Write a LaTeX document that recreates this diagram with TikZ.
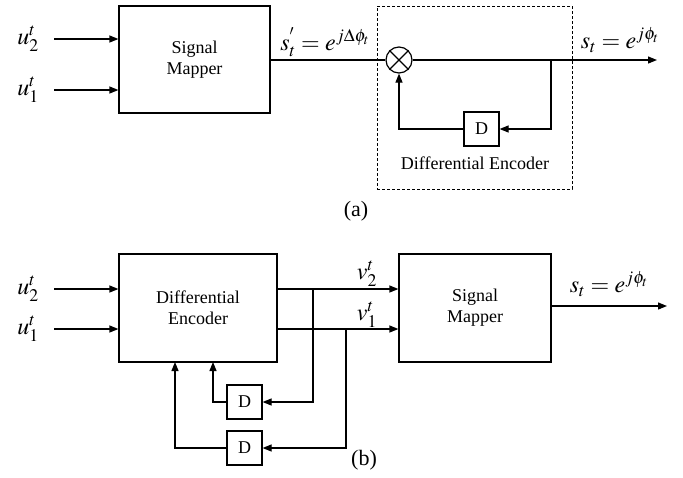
\documentclass[tikz,border=0pt]{standalone}
\usepackage{amsmath}
\usepackage{mathptmx}
\usepackage{fontspec}
\setmainfont{Liberation Serif}
\usepackage{tikz}
\usetikzlibrary{arrows.meta,positioning,calc}

\begin{document}
\begin{tikzpicture}[x=1pt,y=-1pt,line width=1.2pt,
  >={Triangle[length=9pt,width=7pt]},
  blk/.style={rectangle,draw,inner sep=0pt,align=center,
              font=\fontsize{18}{21}\selectfont},
  dly/.style={rectangle,draw,inner sep=0pt,minimum width=35pt,minimum height=34pt,
              font=\fontsize{18}{21}\selectfont},
  sig/.style={inner sep=0pt,font=\fontsize{24}{26}\selectfont},
  subcap/.style={inner sep=0pt,font=\fontsize{22}{24}\selectfont}]

  \useasboundingbox (0,0) rectangle (683,477);

  % (a) mapper followed by differential encoder
  \node[blk,minimum width=151pt,minimum height=107pt] (mapa) at (194.5,59.5) {Signal\\Mapper};
  \coordinate (ua2) at (54,39);
  \coordinate (ua1) at (54,90);
  \draw[->] (ua2) -- (ua2 -| mapa.west);
  \draw[->] (ua1) -- (ua1 -| mapa.west);
  \node[sig] (lua2) at (28,39) {$u_2^t$};
  \node[sig] (lua1) at (28,90) {$u_1^t$};

  \node[circle,draw,minimum size=26pt,inner sep=0pt] (mul) at (399,60) {};
  \draw (mul.north west) -- (mul.south east);
  \draw (mul.north east) -- (mul.south west);
  \node[dly] (da) at (481.5,129) {D};
  \coordinate (tapa) at (551,60);
  \coordinate (outa) at (657,60);
  \draw (mapa.east |- mul) -- (mul.west);
  \draw[->] (mul.east) -- (outa);
  \draw[->] (tapa) |- (da.east);
  \draw[->] (da.west) -| (mul.south);
  \node[rectangle,draw,dash pattern=on 3pt off 2pt,line width=1pt,
        minimum width=195pt,minimum height=183pt] (enca) at (474.5,97.5) {};
  \node[blk,draw=none] (lenca) at (475,163) {Differential Encoder};
  \node[sig] (lsa) at (325,42) {$s_t^{'}=e^{j\Delta\phi_t}$};
  \node[sig] (lsa2) at (620,40) {$s_t=e^{j\phi_t}$};
  \node[subcap] (capa) at (356,211) {(a)};

  % (b) differential encoder followed by mapper
  \node[blk,minimum width=158pt,minimum height=108pt] (encb) at (198,308) {Differential\\Encoder};
  \node[blk,minimum width=152pt,minimum height=108pt] (mapb) at (475,308) {Signal\\Mapper};
  \coordinate (ub2) at (54,289);
  \coordinate (ub1) at (54,329);
  \draw[->] (ub2) -- (ub2 -| encb.west);
  \draw[->] (ub1) -- (ub1 -| encb.west);
  \node[sig] (lub2) at (28,289) {$u_2^t$};
  \node[sig] (lub1) at (28,329) {$u_1^t$};
  \draw[->] (encb.east |- ub2) -- (mapb.west |- ub2);
  \draw[->] (encb.east |- ub1) -- (mapb.west |- ub1);
  \node[sig] (lv2) at (367,274) {$v_2^t$};
  \node[sig] (lv1) at (367,315) {$v_1^t$};

  \node[dly] (db2) at (244.5,402) {D};
  \node[dly] (db1) at (244.5,448) {D};
  \coordinate (tapb2) at (313,289);
  \coordinate (tapb1) at (346,329);
  \coordinate (fbb2) at (213,362);
  \coordinate (fbb1) at (175,362);
  \draw[->] (tapb2) |- (db2.east);
  \draw[->] (tapb1) |- (db1.east);
  \draw[->] (db2.west) -| (fbb2);
  \draw[->] (db1.west) -| (fbb1);

  \coordinate (outb) at (667,306);
  \draw[->] (mapb.east |- outb) -- (outb);
  \node[sig] (lsb) at (609,284) {$s_t=e^{j\phi_t}$};
  \node[subcap] (capb) at (364,460) {(b)};

\end{tikzpicture}
\end{document}
